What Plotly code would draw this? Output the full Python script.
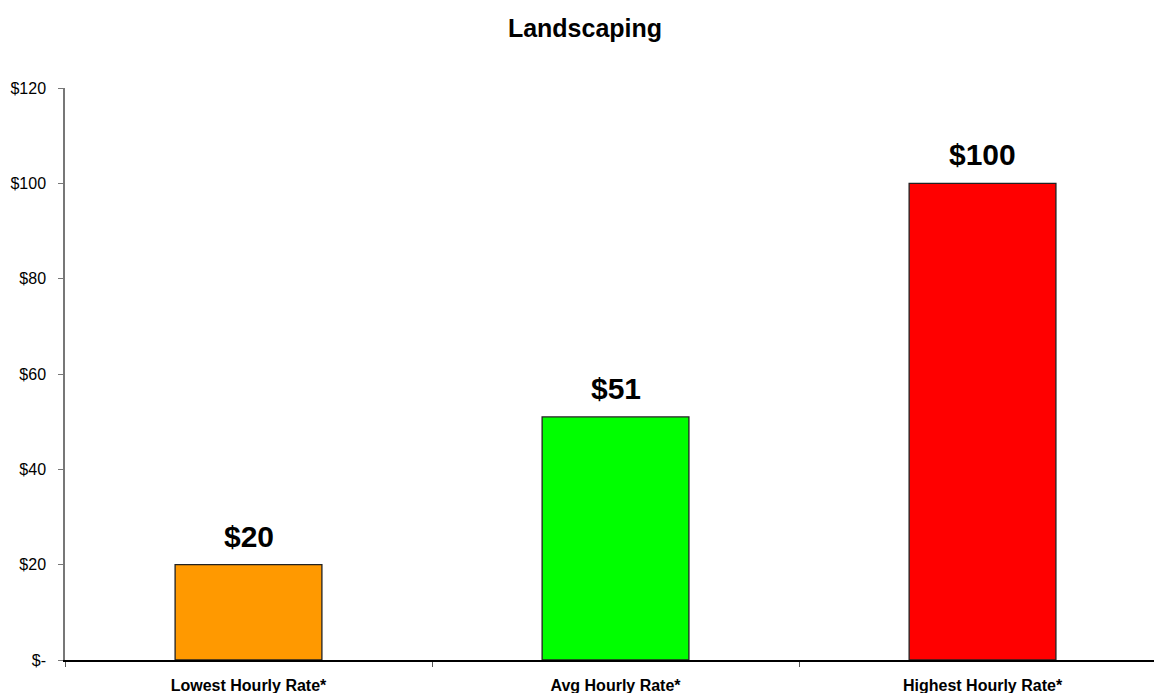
import plotly.graph_objects as go

categories = ["Lowest Hourly Rate*", "Avg Hourly Rate*", "Highest Hourly Rate*"]
rates = [20, 51, 100]
bar_colors = ["#FF9900", "#00FF00", "#FF0000"]
y_ticks = [0, 20, 40, 60, 80, 100, 120]
y_tick_labels = ["$-", "$20", "$40", "$60", "$80", "$100", "$120"]

fig = go.Figure()
fig.add_trace(
    go.Bar(
        x=categories,
        y=rates,
        width=0.4,
        marker=dict(color=bar_colors, line=dict(color="#222222", width=1.3)),
        hoverinfo="x+y",
    )
)

for cat, val in zip(categories, rates):
    fig.add_annotation(
        x=cat, y=val, text=f"<b>${val}</b>", showarrow=False,
        yanchor="bottom", yshift=10,
        font=dict(family="Liberation Sans, Arial", size=30, color="black"),
    )

# page body has an 8px margin, so the figure is sized to end at the window edge
fig.update_layout(
    width=1154,
    height=685,
    margin=dict(l=57, r=0, t=80, b=33),
    paper_bgcolor="white",
    plot_bgcolor="white",
    showlegend=False,
    title=dict(
        text="<b>Landscaping</b>",
        x=0.5, xanchor="center", y=0.971, yanchor="middle",
        font=dict(family="Liberation Sans, Arial", size=25, color="black"),
    ),
    font=dict(family="Liberation Sans, Arial", color="black"),
)

fig.update_xaxes(
    range=[-0.5, 2.489],
    showline=True, linecolor="black", linewidth=1.5,
    ticks="outside", tickson="boundaries", ticklen=5, tickcolor="#555555",
    tickfont=dict(size=16),
    ticklabelstandoff=10,
    tickvals=categories,
    ticktext=[f"<b>{c}</b>" for c in categories],
    showgrid=False,
)

fig.update_yaxes(
    range=[0, 120],
    tickvals=y_ticks,
    ticktext=y_tick_labels,
    showline=True, linecolor="#777777", linewidth=1.5,
    ticks="outside", ticklen=5, tickcolor="#777777",
    tickfont=dict(size=16),
    ticklabelstandoff=9,
    showgrid=False, zeroline=False,
)

fig.write_html("out.html")
